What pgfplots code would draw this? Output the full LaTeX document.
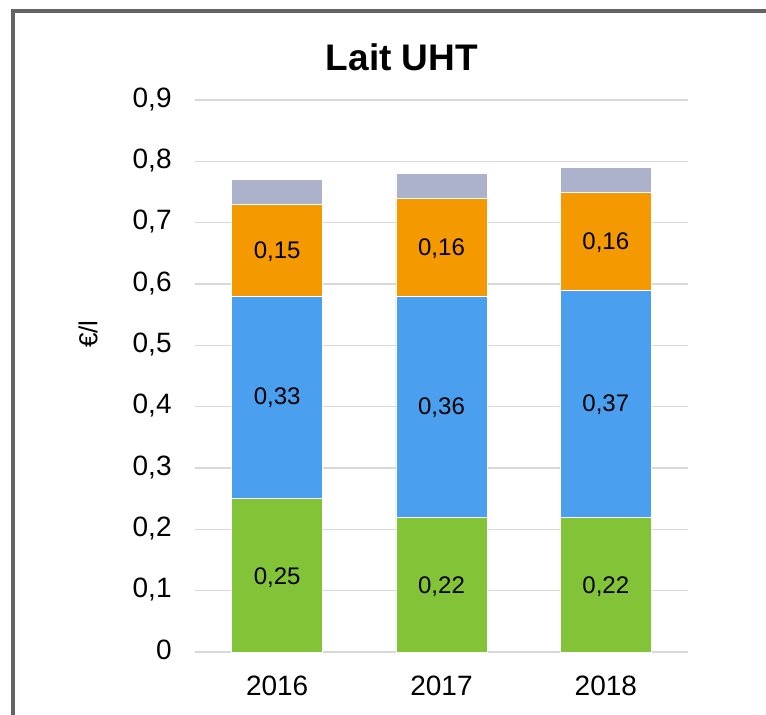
\documentclass[border=0pt]{standalone}
\usepackage{fontspec}
\setmainfont{Liberation Sans}
\usepackage{pgfplots}
\pgfplotsset{compat=1.18}
\usepackage{pgfplotstable}
\definecolor{cgreen}{RGB}{130,195,56}
\definecolor{cblue}{RGB}{74,159,238}
\definecolor{corange}{RGB}{245,153,0}
\definecolor{cgrey}{RGB}{172,177,204}
\definecolor{cgrid}{RGB}{217,217,217}
\definecolor{cframe}{RGB}{100,100,100}
\pgfplotstableread{
x  green blue orange grey
0  0.25  0.33 0.15   0.04
1  0.22  0.36 0.16   0.04
2  0.22  0.37 0.16   0.04
}\datatable
\pgfplotstableread{
x  y      label
0  0.122  {0,25}
1  0.107  {0,22}
2  0.107  {0,22}
0  0.415  {0,33}
1  0.398  {0,36}
2  0.403  {0,37}
0  0.652  {0,15}
1  0.658  {0,16}
2  0.668  {0,16}
}\labeltable
\begin{document}
\begin{tikzpicture}
\useasboundingbox (0,0) rectangle (383pt,357.5pt);
\clip (0,0) rectangle (383pt,357.5pt);
\fill[white] (0,0) rectangle (383pt,357.5pt);
\draw[cframe, line width=2pt] (6.6pt,-20pt) rectangle (420pt,352.0pt);
\begin{axis}[
  at={(97.5pt,31.5pt)}, anchor=south west,
  scale only axis, width=246.5pt, height=276pt,
  ybar stacked, bar width=0.554,
  xmin=-0.5, xmax=2.5, ymin=0, ymax=0.9,
  xtick={0,1,2}, xticklabels={2016,2017,2018},
  ytick={0,0.1,0.2,0.3,0.4,0.5,0.6,0.7,0.8,0.9},
  /pgf/number format/assume math mode=true,
  /pgf/number format/.cd, use comma, fixed, precision=1, /pgfplots/.cd,
  axis line style={draw=none},
  major tick length=0pt,
  ymajorgrids, grid style={cgrid, line width=0.75pt},
  tick label style={font=\fontsize{14}{16}\selectfont, inner sep=0pt, text=black},
  yticklabel style={anchor=base east, xshift=-11.5pt, yshift=-0.358em},
  xticklabel style={anchor=north, yshift=-12pt},
  clip=false,
]
\addplot[fill=cgreen, draw=white, line width=0.3pt] table[x=x, y=green] {\datatable};
\addplot[fill=cblue, draw=white, line width=0.3pt] table[x=x, y=blue] {\datatable};
\addplot[fill=corange, draw=white, line width=0.3pt] table[x=x, y=orange] {\datatable};
\addplot[fill=cgrey, draw=white, line width=0.3pt] table[x=x, y=grey] {\datatable};
\end{axis}
\begin{axis}[
  at={(97.5pt,31.5pt)}, anchor=south west,
  scale only axis, width=246.5pt, height=276pt,
  xmin=-0.5, xmax=2.5, ymin=0, ymax=0.9,
  hide axis, clip=false,
]
\addplot[draw=none, mark=none, nodes near coords, point meta=explicit symbolic,
  every node near coord/.style={anchor=center, inner sep=0pt, text=black, font=\fontsize{12}{14}\selectfont}]
  table[x=x, y=y, meta=label] {\labeltable};
\end{axis}
\node[font=\bfseries\fontsize{18.5}{22}\selectfont, anchor=center] at (201pt,329pt) {Lait UHT};
\node[font=\fontsize{13}{15}\selectfont, rotate=90, anchor=center] at (44pt,190.5pt) {€/l};
\end{tikzpicture}
\end{document}
